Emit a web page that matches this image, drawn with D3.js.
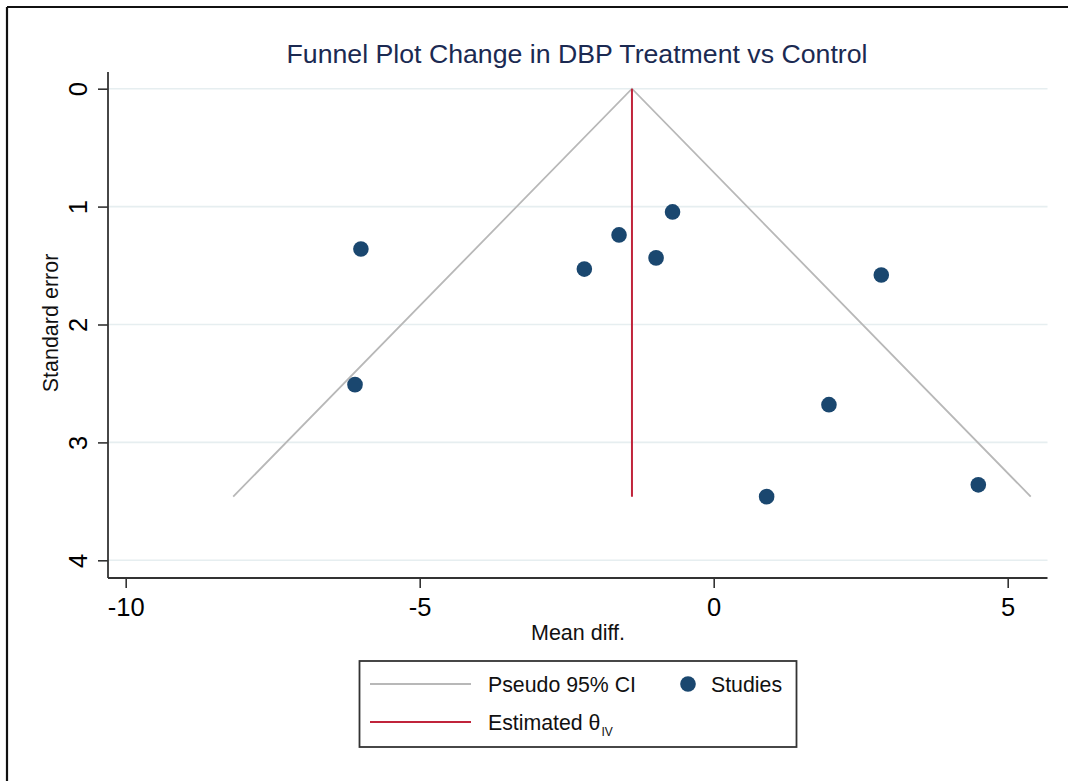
<!DOCTYPE html>
<html>
<head>
<meta charset="utf-8">
<script src="https://cdn.jsdelivr.net/npm/d3@7"></script>
<style>
  html, body { margin: 0; padding: 0; background: #ffffff; }
  svg { display: block; font-family: "Liberation Sans", Arial, Helvetica, sans-serif; }
</style>
</head>
<body>
<svg id="chart" width="1068" height="781"></svg>
<script>
// Study estimates: mean difference in DBP and its standard error
const meanDiff = [-6.00, -6.10, -2.20, -1.61, -0.98, -0.70, 2.85, 1.96, 0.90, 4.50];
const stdErr   = [1.36, 2.51, 1.53, 1.24, 1.435, 1.045, 1.58, 2.68, 3.46, 3.36];

// Pooled inverse-variance estimate and the largest standard error shown
const thetaIV = -1.39;
const seMax = 3.46;
const z95 = 1.96;

// Axis ticks
const xTicks = [-10, -5, 0, 5];
const yTicks = [0, 1, 2, 3, 4];

const titleText = "Funnel Plot Change in DBP Treatment vs Control";
const xTitle = "Mean diff.";
const yTitle = "Standard error";

const svg = d3.select("#chart");

const x = d3.scaleLinear().domain([-10, 5]).range([125.7, 1007.7]);
const y = d3.scaleLinear().domain([0, 4]).range([88.7, 560.3]);

const plotLeft = 108, plotRight = 1047.5, plotTop = 72, plotBottom = 578;

// Plain hyphen for negative tick values
const tickLabel = d => String(d);

// Outer frame (top and left edges)
svg.append("line").attr("x1", 7).attr("x2", 1068).attr("y1", 7).attr("y2", 7)
  .attr("stroke", "#111").attr("stroke-width", 2.2);
svg.append("line").attr("x1", 7).attr("x2", 7).attr("y1", 7).attr("y2", 781)
  .attr("stroke", "#111").attr("stroke-width", 2.2);

// Title
svg.append("text").attr("x", 577).attr("y", 63)
  .attr("text-anchor", "middle").attr("font-size", 26.7)
  .attr("fill", "#1b2a52").text(titleText);

// Horizontal gridlines
svg.append("g").selectAll("line").data(yTicks).join("line")
  .attr("x1", plotLeft).attr("x2", plotRight)
  .attr("y1", d => y(d)).attr("y2", d => y(d))
  .attr("stroke", "#e6eef0").attr("stroke-width", 1.6);

// Pseudo 95% confidence limits
const funnel = [
  [thetaIV - z95 * seMax, seMax],
  [thetaIV, 0],
  [thetaIV + z95 * seMax, seMax]
];
svg.append("path")
  .attr("d", d3.line().x(d => x(d[0])).y(d => y(d[1]))(funnel))
  .attr("fill", "none").attr("stroke", "#b8b8b8").attr("stroke-width", 1.8);

// Estimated effect line
svg.append("line")
  .attr("x1", x(thetaIV)).attr("x2", x(thetaIV))
  .attr("y1", y(0)).attr("y2", y(seMax))
  .attr("stroke", "#c0243b").attr("stroke-width", 2);

// Studies
svg.append("g").selectAll("circle").data(meanDiff.map((m, i) => [m, stdErr[i]])).join("circle")
  .attr("cx", d => x(d[0])).attr("cy", d => y(d[1])).attr("r", 7.8)
  .attr("fill", "#1a476f");

// Y axis
const yAxis = svg.append("g").attr("transform", `translate(${plotLeft},0)`)
  .call(d3.axisLeft(y).tickValues(yTicks).tickSize(10).tickPadding(0).tickFormat(tickLabel));
yAxis.select(".domain").attr("d", `M0,${plotTop}V${plotBottom}`).attr("stroke", "#333").attr("stroke-width", 1.8);
yAxis.selectAll(".tick line").attr("stroke", "#333").attr("stroke-width", 1.6);
yAxis.selectAll(".tick text")
  .attr("x", null).attr("dy", null)
  .attr("transform", "translate(-30,0) rotate(-90)")
  .attr("text-anchor", "middle").attr("dy", "0.36em")
  .attr("font-size", 25.5).attr("font-family", "Liberation Sans, Arial, sans-serif").attr("fill", "#000");

// X axis
const xAxis = svg.append("g").attr("transform", `translate(0,${plotBottom})`)
  .call(d3.axisBottom(x).tickValues(xTicks).tickSize(10).tickPadding(10).tickFormat(tickLabel));
xAxis.select(".domain").attr("d", `M${plotLeft},0H${plotRight}`).attr("stroke", "#333").attr("stroke-width", 1.8);
xAxis.selectAll(".tick line").attr("stroke", "#333").attr("stroke-width", 1.6);
xAxis.selectAll(".tick text")
  .attr("font-size", 25.5).attr("font-family", "Liberation Sans, Arial, sans-serif").attr("fill", "#000");

// Axis titles
svg.append("text").attr("x", 578).attr("y", 640)
  .attr("text-anchor", "middle").attr("font-size", 21.5).attr("fill", "#111").text(xTitle);
svg.append("text").attr("transform", "translate(50,323) rotate(-90)")
  .attr("text-anchor", "middle").attr("dy", "0.36em")
  .attr("font-size", 21.5).attr("fill", "#111").text(yTitle);

// Legend
const lg = svg.append("g");
lg.append("rect").attr("x", 359.5).attr("y", 661).attr("width", 437).attr("height", 86)
  .attr("fill", "#fff").attr("stroke", "#333").attr("stroke-width", 1.8);
lg.append("line").attr("x1", 370).attr("x2", 471).attr("y1", 684).attr("y2", 684)
  .attr("stroke", "#b8b8b8").attr("stroke-width", 1.8);
lg.append("text").attr("x", 488).attr("y", 691.5).attr("font-size", 21.3).attr("fill", "#111")
  .text("Pseudo 95% CI");
lg.append("circle").attr("cx", 688).attr("cy", 684).attr("r", 7.8).attr("fill", "#1a476f");
lg.append("text").attr("x", 711).attr("y", 691.5).attr("font-size", 21.3).attr("fill", "#111")
  .text("Studies");
lg.append("line").attr("x1", 370).attr("x2", 471).attr("y1", 722).attr("y2", 722)
  .attr("stroke", "#c0243b").attr("stroke-width", 2);
const est = lg.append("text").attr("x", 488).attr("y", 729.5).attr("font-size", 21.3).attr("fill", "#111");
est.append("tspan").text("Estimated \u03B8");
est.append("tspan").attr("font-size", 12).attr("dy", 6).attr("dx", 1).text("IV");
</script>
</body>
</html>
